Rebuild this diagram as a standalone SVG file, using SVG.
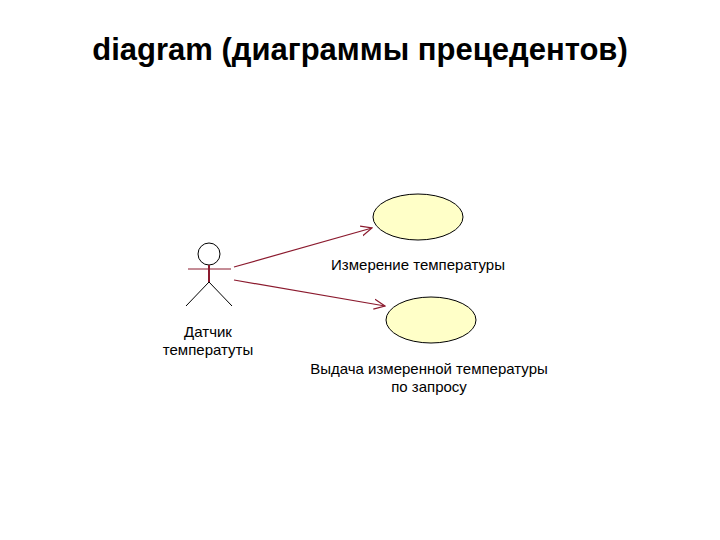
<svg xmlns="http://www.w3.org/2000/svg" width="720" height="540" viewBox="0 0 720 540">
<style>
text{font-family:"Liberation Sans",Arial,sans-serif;fill:#000}
.lbl{font-size:15px}
.uc{fill:#ffffc8;stroke:#000;stroke-width:1}
.con{stroke:#8b1a2e;stroke-width:1.2;fill:none}
.act{stroke:#000;stroke-width:1;fill:none}
</style>
<defs><marker id="ah" markerWidth="12" markerHeight="12" refX="11" refY="6" orient="auto" markerUnits="userSpaceOnUse"><path d="M0,1 L11,6 L0,11" fill="none" stroke="#8b1a2e" stroke-width="1.2"/></marker></defs>
<rect width="720" height="540" fill="#fff"/>
<text x="360" y="60" text-anchor="middle" font-size="31" font-weight="bold">diagram (диаграммы прецедентов)</text>
<g id="actor">
<circle class="act" cx="209" cy="254" r="11"/>
<line x1="188" y1="269" x2="231" y2="269" stroke="#8b1a2e"/>
<line x1="209" y1="265" x2="209" y2="282" stroke="#8b1a2e" stroke-width="2"/>
<path class="act" d="M186,306 L209,282 L232,306"/>
<text class="lbl" x="208" y="337" text-anchor="middle">Датчик</text>
<text class="lbl" x="208" y="355" text-anchor="middle">температуты</text>
</g>
<g id="uc1"><ellipse class="uc" cx="418" cy="217" rx="45" ry="23"/><text class="lbl" x="418" y="270" text-anchor="middle">Измерение температуры</text></g>
<g id="uc2"><ellipse class="uc" cx="431" cy="320" rx="45" ry="23"/><text class="lbl" x="429" y="374" text-anchor="middle">Выдача измеренной температуры</text><text class="lbl" x="429" y="392" text-anchor="middle">по запросу</text></g>
<g id="connectors">
<line class="con" x1="234" y1="267" x2="372" y2="228" marker-end="url(#ah)"/>
<line class="con" x1="234" y1="280" x2="385" y2="306" marker-end="url(#ah)"/>
</g>
</svg>
